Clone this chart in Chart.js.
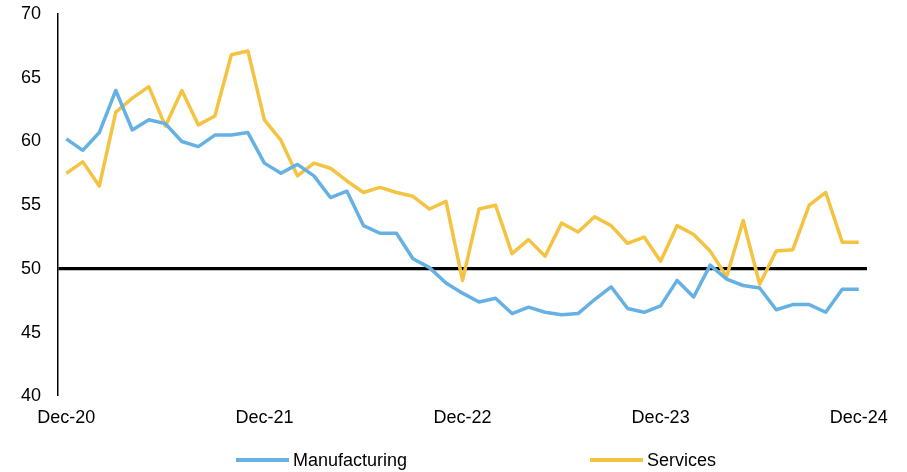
<!DOCTYPE html>
<html>
<head>
<meta charset="utf-8">
<script src="https://cdn.jsdelivr.net/npm/chart.js@4/dist/chart.umd.min.js"></script>
<style>
  html, body { margin: 0; padding: 0; background: #fff; }
  #wrap { width: 907px; height: 472px; position: relative; }
</style>
</head>
<body>
<div id="wrap"><canvas id="pmiChart"></canvas></div>
<script>
const months = [
  'Dec-20', 'Jan-21', 'Feb-21', 'Mar-21', 'Apr-21', 'May-21', 'Jun-21', 'Jul-21', 'Aug-21', 'Sep-21', 'Oct-21', 'Nov-21',
  'Dec-21', 'Jan-22', 'Feb-22', 'Mar-22', 'Apr-22', 'May-22', 'Jun-22', 'Jul-22', 'Aug-22', 'Sep-22', 'Oct-22', 'Nov-22',
  'Dec-22', 'Jan-23', 'Feb-23', 'Mar-23', 'Apr-23', 'May-23', 'Jun-23', 'Jul-23', 'Aug-23', 'Sep-23', 'Oct-23', 'Nov-23',
  'Dec-23', 'Jan-24', 'Feb-24', 'Mar-24', 'Apr-24', 'May-24', 'Jun-24', 'Jul-24', 'Aug-24', 'Sep-24', 'Oct-24', 'Nov-24',
  'Dec-24'
];

const manufacturing = [
  60.2, 59.3, 60.7, 64.0, 60.9, 61.7, 61.4, 60.0, 59.6, 60.5, 60.5, 60.7,
  58.3, 57.5, 58.2, 57.3, 55.6, 56.1, 53.4, 52.8, 52.8, 50.8, 50.1, 48.9,
  48.1, 47.4, 47.7, 46.5, 47.0, 46.6, 46.4, 46.5, 47.6, 48.6, 46.9, 46.6,
  47.1, 49.1, 47.8, 50.3, 49.2, 48.7, 48.5, 46.8, 47.2, 47.2, 46.6, 48.4,
  48.4
];

const services = [
  57.5, 58.4, 56.5, 62.3, 63.4, 64.3, 61.2, 64.0, 61.3, 62.0, 66.8, 67.1,
  61.7, 60.1, 57.3, 58.3, 57.9, 56.9, 56.0, 56.4, 56.0, 55.7, 54.7, 55.3,
  49.1, 54.7, 55.0, 51.2, 52.3, 51.0, 53.6, 52.9, 54.1, 53.4, 52.0, 52.5,
  50.6, 53.4, 52.7, 51.4, 49.4, 53.8, 48.8, 51.4, 51.5, 55.0, 56.0, 52.1,
  52.1
];

const seriesNames = ['Manufacturing', 'Services'];
const yMin = 40;
const yMax = 70;
const yStep = 5;
const threshold = 50;

const BLUE = '#65b1e4';
const GOLD = '#f5c342';
const FONT = "'Liberation Sans', Arial, sans-serif";

// legend drawn by hand so the two items can sit far apart like the original
const bottomLegend = {
  id: 'bottomLegend',
  afterDraw(chart) {
    const ctx = chart.ctx;
    const starts = [236, 590];
    const y = 460;
    ctx.save();
    ctx.font = '18px ' + FONT;
    ctx.textBaseline = 'middle';
    ctx.fillStyle = '#000';
    chart.data.datasets.forEach((ds, i) => {
      const x = starts[i];
      ctx.strokeStyle = ds.borderColor;
      ctx.lineWidth = 4;
      ctx.beginPath();
      ctx.moveTo(x, y);
      ctx.lineTo(x + 53, y);
      ctx.stroke();
      ctx.fillText(ds.label, x + 57, y + 1);
    });
    ctx.restore();
  }
};

const ctx = document.getElementById('pmiChart');

new Chart(ctx, {
  type: 'line',
  data: {
    labels: months,
    datasets: [{
      label: seriesNames[0],
      data: manufacturing,
      borderColor: BLUE,
      backgroundColor: BLUE,
      borderWidth: 3.5,
      pointRadius: 0,
      tension: 0,
      borderJoinStyle: 'round'
    }, {
      label: seriesNames[1],
      data: services,
      borderColor: GOLD,
      backgroundColor: GOLD,
      borderWidth: 3.5,
      pointRadius: 0,
      tension: 0,
      borderJoinStyle: 'round'
    }]
  },
  options: {
    responsive: true,
    maintainAspectRatio: false,
    animation: false,
    layout: {
      padding: { left: 21, right: 40, top: 14, bottom: 32 }
    },
    plugins: {
      legend: { display: false },
      tooltip: { enabled: false }
    },
    scales: {
      x: {
        type: 'category',
        offset: true,
        border: { display: false },
        grid: { display: false, drawTicks: false },
        ticks: {
          autoSkip: false,
          maxRotation: 0,
          padding: 11,
          color: '#000',
          font: { family: FONT, size: 18 },
          callback: function (val, idx) {
            return idx % 12 === 0 ? this.getLabelForValue(val) : '';
          }
        }
      },
      y: {
        min: yMin,
        max: yMax,
        border: { display: true, color: '#000', width: 1.5 },
        grid: {
          drawTicks: true,
          tickLength: 17,
          tickColor: 'rgba(0,0,0,0)',
          color: c => c.tick && c.tick.value === threshold ? '#000' : 'rgba(0,0,0,0)',
          lineWidth: c => c.tick && c.tick.value === threshold ? 3.3 : 0
        },
        ticks: {
          stepSize: yStep,
          padding: 0,
          color: '#000',
          font: { family: FONT, size: 18 }
        }
      }
    }
  },
  plugins: [bottomLegend]
});
</script>
</body>
</html>
